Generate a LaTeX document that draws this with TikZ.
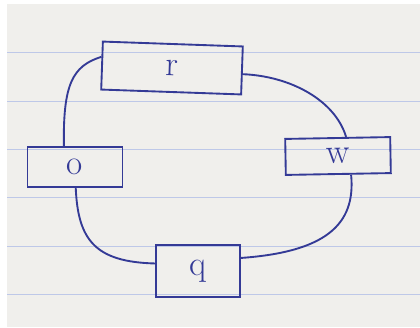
\documentclass[tikz,border=0pt]{standalone}
\usepackage{xcolor}
\usepackage{tikz}
\usetikzlibrary{positioning}
\definecolor{penblue}{RGB}{52,58,150}
\definecolor{paper}{RGB}{240,239,236}
\definecolor{rule}{RGB}{190,200,232}

\tikzset{
    sketchbox/.style={
        draw=penblue,
        line width=1.6pt,
        text=penblue,
        font=\fontsize{30}{32}\selectfont,
        inner sep=0pt
    },
    sketchline/.style={draw=penblue, line width=1.6pt}
}

\begin{document}
\begin{tikzpicture}[x=0.03cm,y=-0.03cm]
\useasboundingbox (0,0) rectangle (420,327);
\fill[white] (0,0) rectangle (420,327);
\fill[paper] (7,4) rectangle (420,327);
\foreach \y in {52,101,149,197,246,294}
    \draw[rule, line width=0.8pt] (7,\y) -- (420,\y);

\node[
    sketchbox,
    minimum width=4.2cm,
    minimum height=1.44cm,
    rotate=-2
] (topbox) at (172,68) {r};

\node[
    sketchbox,
    minimum width=2.85cm,
    minimum height=1.2cm
] (leftbox) at (75,167) {o};

\node[
    sketchbox,
    minimum width=3.15cm,
    minimum height=1.08cm,
    rotate=1
] (rightbox) at (338,156) {w};

\node[
    sketchbox,
    minimum width=2.5cm,
    minimum height=1.56cm
] (botbox) at (198,271) {q};

\draw[sketchline] (topbox.173) .. controls (72,66) and (63,85) .. (leftbox.118);
\draw[sketchline] (leftbox.-88) .. controls (78,240) and (95,262) .. (botbox.170);
\draw[sketchline] (botbox.17) .. controls (325,252) and (356,225) .. (rightbox.-56);
\draw[sketchline] (rightbox.66) .. controls (335,100) and (290,76) .. (topbox.-3);
\end{tikzpicture}
\end{document}
